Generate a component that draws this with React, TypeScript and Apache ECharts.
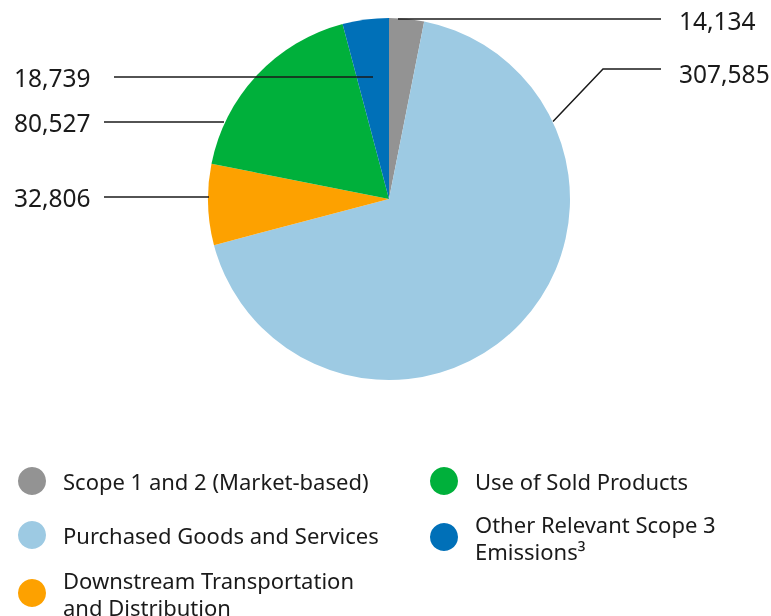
import React, { useEffect, useRef } from "react";
import * as echarts from "echarts";

// ---- data ----
const categories = [
  "Scope 1 and 2 (Market-based)",
  "Purchased Goods and Services",
  "Downstream Transportation and Distribution",
  "Use of Sold Products",
  "Other Relevant Scope 3 Emissions",
];
const values = [14134, 307585, 32806, 80527, 18739];
const legendLabels = [
  "Scope 1 and 2 (Market-based)",
  "Purchased Goods and Services",
  "Downstream Transportation\nand Distribution",
  "Use of Sold Products",
  "Other Relevant Scope 3\nEmissions³",
];

// ---- styles / layout ----
const colors = ["#939393", "#9dcae3", "#fda100", "#00b03b", "#0070b8"];
const FONT = "'Noto Sans', 'Open Sans', sans-serif";
const TEXT = "#1a1a1a";
const CENTER: [number, number] = [389, 199];
const RADIUS = 181;

// label text anchor and leader-line points, per slice
const labelLayouts = [
  { x: 679, y: 20, line: [[398, 19], [530, 19], [661, 19]] },
  { x: 679, y: 73, line: [[553, 121.5], [603, 69], [661, 69]] },
  { x: 14, y: 197, line: [[209, 197], [156, 197], [104, 197]] },
  { x: 14, y: 122, line: [[224, 122], [164, 122], [104, 122]] },
  { x: 14, y: 77, line: [[373, 77], [244, 77], [114, 77]] },
];

// legend item placement: icon centre x, box top
const legendPlacement = [
  { cx: 32, top: 467 },
  { cx: 32, top: 521 },
  { cx: 32, top: 566 },
  { cx: 444, top: 467 },
  { cx: 444, top: 510 },
];

export default function App() {
  const ref = useRef<HTMLDivElement>(null);
  useEffect(() => {
    if (!ref.current) return;
    const chart = echarts.init(ref.current, undefined, { renderer: "svg" });
    const ICON = 28;
    const pieData = categories.map((name, i) => ({ name, value: values[i] }));
    chart.setOption({
      animation: false,
      color: colors,
      legend: categories.map((name, i) => ({
        data: [name],
        left: legendPlacement[i].cx - ICON / 2,
        top: legendPlacement[i].top,
        padding: 0,
        icon: "circle",
        itemWidth: ICON,
        itemHeight: ICON,
        selectedMode: false,
        formatter: () => legendLabels[i],
        textStyle: {
          fontFamily: FONT,
          fontSize: 22,
          lineHeight: 27,
          color: TEXT,
          padding: [0, 0, 0, 12],
        },
      })),
      series: [
        {
          type: "pie",
          z: 2,
          center: CENTER,
          radius: RADIUS,
          startAngle: 90,
          clockwise: true,
          itemStyle: { borderWidth: 0 },
          emphasis: { disabled: true },
          label: { show: false },
          labelLine: { show: false },
          data: pieData,
        },
        {
          // transparent overlay carrying the value labels and leader lines above the slices
          type: "pie",
          z: 5,
          silent: true,
          center: CENTER,
          radius: RADIUS,
          startAngle: 90,
          clockwise: true,
          avoidLabelOverlap: false,
          itemStyle: { color: "rgba(0,0,0,0)", borderWidth: 0 },
          emphasis: { disabled: true },
          data: pieData,
          label: {
            show: true,
            position: "outside",
            fontFamily: FONT,
            fontSize: 24.5,
            color: TEXT,
            formatter: (p: any) => Number(p.value).toLocaleString("en-US"),
          },
          labelLine: {
            show: true,
            showAbove: true,
            lineStyle: { color: TEXT, width: 1.5 },
          },
          labelLayout: (params: any) => {
            const l = labelLayouts[params.dataIndex];
            return {
              x: l.x,
              y: l.y,
              align: "left",
              verticalAlign: "middle",
              labelLinePoints: l.line.map((p) => [p[0], p[1]]),
            };
          },
        },
      ],
    });
    return () => chart.dispose();
  }, []);
  return (
    <div
      ref={ref}
      style={{ position: "fixed", left: 0, top: 0, width: 771, height: 616 }}
    />
  );
}
